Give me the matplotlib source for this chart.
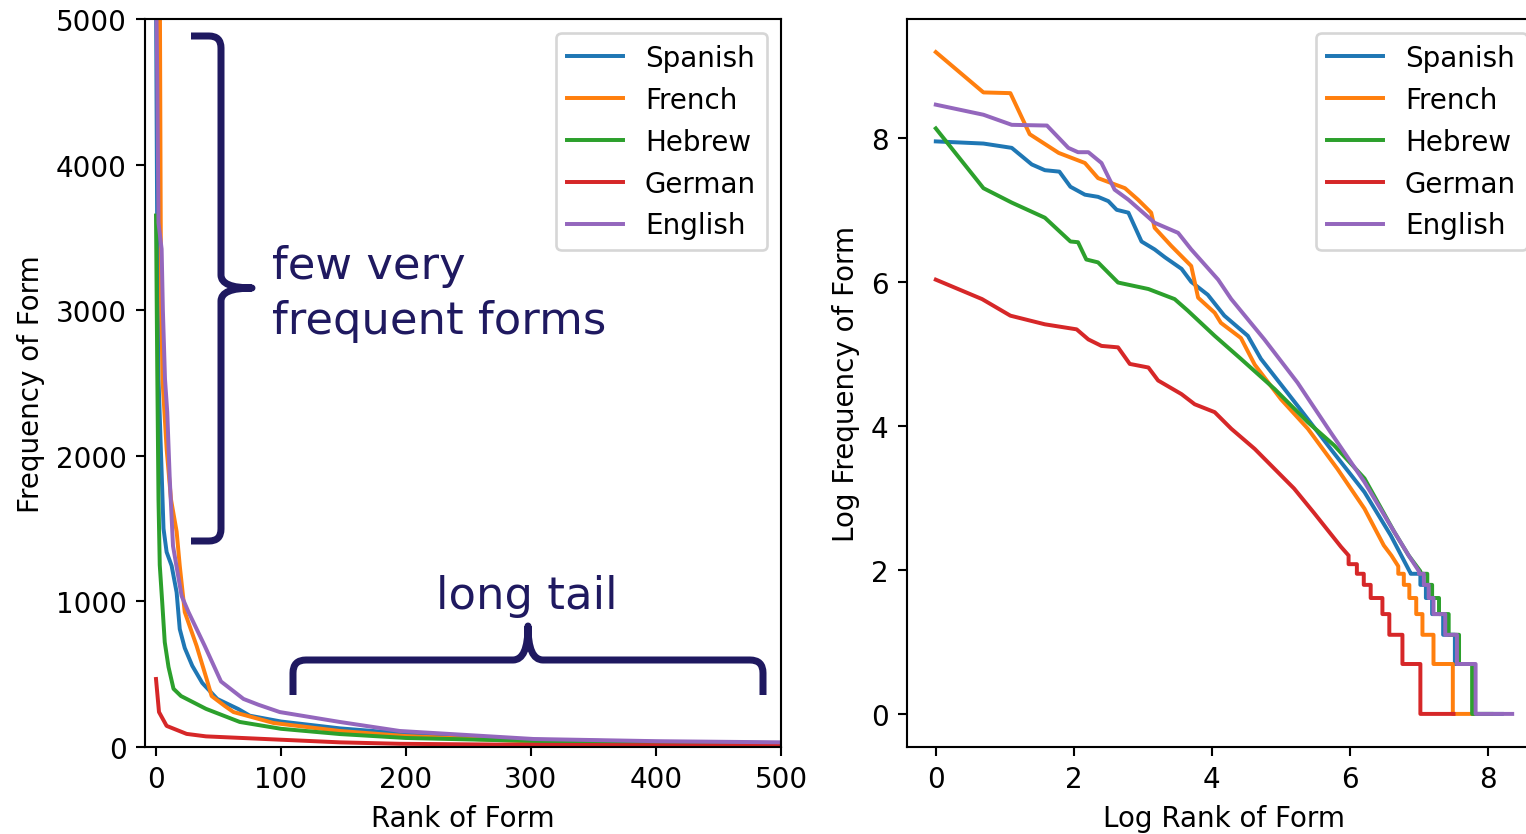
import numpy as np
import matplotlib
matplotlib.use("Agg")
import matplotlib.pyplot as plt
from matplotlib.path import Path
from matplotlib.patches import PathPatch
import matplotlib.transforms as mtransforms

plt.rcParams["font.size"] = 10.5

# ---------------- data ----------------
languages = ["Spanish", "French", "Hebrew", "German", "English"]

# Left panel: rank (0-based) vs raw frequency
rank_es = [0, 1, 2, 4.5, 6, 8.5, 12.5, 16.5, 19, 23, 29, 37, 49, 66, 75, 100, 147, 200, 300, 400, 500]
freq_es = [5200, 3500, 2527, 1889, 1500, 1339, 1245, 1062, 810, 680, 558, 440, 330, 260, 215, 175, 128, 92, 50, 35, 27]

rank_fr = [0, 1, 3, 4, 5.3, 8.5, 12, 16.5, 19, 23, 32.5, 40.5, 44.5, 55, 62, 94, 147, 200, 300, 400, 500]
freq_fr = [9900, 5600, 5400, 3100, 2507, 2047, 1700, 1480, 1245, 927, 694, 467, 350, 282, 240, 165, 110, 75, 38, 27, 21]

rank_he = [0, 1, 2, 3, 5, 7, 10, 14, 20, 40, 67, 100, 147, 200, 300, 400, 500]
freq_he = [3650, 2600, 1700, 1250, 990, 720, 550, 400, 350, 262, 172, 125, 89, 62, 42, 31, 25]

rank_de = [0, 2.4, 8.5, 24.5, 40, 100, 147, 195, 300, 400, 500]
freq_de = [467, 240, 145, 90, 73, 50, 32, 22, 15, 12, 10]

rank_en = [0, 1, 2, 4.5, 5.5, 7.2, 9, 11, 13.6, 20.5, 26, 39, 52, 70, 82, 99, 147, 195, 302, 400, 500]
freq_en = [5300, 4600, 3600, 3420, 3000, 2527, 2300, 1841, 1381, 1037, 927, 694, 450, 330, 290, 240, 172, 110, 55, 40, 32]

# Right panel: log rank vs log frequency (upper part)
logr_es = [0, 0.69, 1.10, 1.39, 1.58, 1.79, 1.95, 2.16, 2.35, 2.50, 2.62, 2.79, 2.98, 3.17, 3.32, 3.56, 3.70,
           3.94, 4.18, 4.52, 4.71, 5.24, 5.72, 6.21, 6.59, 6.88]
logf_es = [7.95, 7.92, 7.86, 7.63, 7.55, 7.53, 7.32, 7.21, 7.18, 7.12, 7.00, 6.96, 6.56, 6.45, 6.34, 6.18, 6.00,
           5.82, 5.53, 5.25, 4.93, 4.28, 3.68, 3.08, 2.48, 1.95]

logr_fr = [0, 0.69, 1.08, 1.36, 1.78, 2.16, 2.35, 2.74, 2.93, 3.12, 3.17, 3.41, 3.70, 3.80, 4.04, 4.13, 4.42,
           4.62, 5.00, 5.39, 5.82, 6.21, 6.49, 6.60, 6.70]
logf_fr = [9.19, 8.63, 8.62, 8.05, 7.79, 7.65, 7.44, 7.30, 7.14, 6.96, 6.75, 6.50, 6.22, 5.78, 5.57, 5.43, 5.22,
           4.85, 4.37, 3.96, 3.40, 2.85, 2.34, 2.20, 2.05]

logr_he = [0, 0.69, 1.10, 1.58, 1.95, 2.06, 2.18, 2.35, 2.64, 3.08, 3.46, 3.65, 4.04, 4.42, 4.91, 5.39, 5.77,
           6.21, 6.64, 6.85, 7.02]
logf_he = [8.13, 7.30, 7.10, 6.89, 6.56, 6.55, 6.31, 6.27, 5.99, 5.90, 5.76, 5.60, 5.25, 4.93, 4.51, 4.05, 3.73,
           3.27, 2.53, 2.20, 1.98]

logr_de = [0, 0.67, 1.08, 1.58, 2.04, 2.21, 2.40, 2.64, 2.81, 3.08, 3.22, 3.56, 3.75, 4.04, 4.28, 4.62, 4.91,
           5.19, 5.48, 5.87, 5.98]
logf_de = [6.03, 5.76, 5.53, 5.41, 5.34, 5.20, 5.11, 5.09, 4.86, 4.81, 4.63, 4.44, 4.30, 4.19, 3.96, 3.68, 3.40,
           3.13, 2.79, 2.32, 2.20]

logr_en = [0, 0.69, 1.10, 1.61, 1.92, 2.06, 2.21, 2.40, 2.59, 2.79, 3.17, 3.51, 3.70, 4.09, 4.28, 4.52, 4.76,
           5.24, 5.72, 6.21, 6.64, 6.85, 7.00]
logf_en = [8.46, 8.32, 8.18, 8.17, 7.86, 7.80, 7.80, 7.65, 7.28, 7.14, 6.82, 6.68, 6.45, 6.03, 5.76, 5.48, 5.20,
           4.60, 3.91, 3.22, 2.53, 2.20, 1.98]

# Tail: small integer frequencies (descending) and the log rank where each level ends
tail_freq_es = [7, 6, 5, 4, 3, 2, 1]
tail_end_es = [7.02, 7.10, 7.19, 7.35, 7.52, 7.78, 8.20]
tail_freq_fr = [7, 6, 5, 4, 3, 2, 1]
tail_end_fr = [6.78, 6.86, 6.96, 7.05, 7.21, 7.49, 7.78]
tail_freq_he = [7, 6, 5, 4, 3, 2, 1]
tail_end_he = [7.12, 7.19, 7.29, 7.43, 7.58, 7.77, 8.05]
tail_freq_de = [8, 7, 6, 5, 4, 3, 2, 1]
tail_end_de = [6.10, 6.20, 6.30, 6.47, 6.57, 6.76, 7.02, 7.50]
tail_freq_en = [7, 6, 5, 4, 3, 2, 1]
tail_end_en = [7.07, 7.14, 7.21, 7.38, 7.55, 7.82, 8.35]

left_data = [(rank_es, freq_es), (rank_fr, freq_fr), (rank_he, freq_he), (rank_de, freq_de), (rank_en, freq_en)]
right_data = [(logr_es, logf_es, tail_freq_es, tail_end_es),
              (logr_fr, logf_fr, tail_freq_fr, tail_end_fr),
              (logr_he, logf_he, tail_freq_he, tail_end_he),
              (logr_de, logf_de, tail_freq_de, tail_end_de),
              (logr_en, logf_en, tail_freq_en, tail_end_en)]

NAVY = "#1f1960"

# ---------------- figure ----------------
W, H, DPI = 1526, 835, 190
fig = plt.figure(figsize=(W / DPI, H / DPI), dpi=DPI)
ax1 = fig.add_axes([145 / W, (H - 748) / H, 636 / W, 728 / H])
ax2 = fig.add_axes([907 / W, (H - 748) / H, 634 / W, 728 / H])

for name, (r, f) in zip(languages, left_data):
    ax1.plot(r, f, label=name)
ax1.set_xlim(-8.8, 500)
ax1.set_ylim(0, 5000)
ax1.set_xlabel("Rank of Form")
ax1.set_ylabel("Frequency of Form")
ax1.legend(loc="upper right")


def staircase(ux, uy, levels, ends):
    xs = list(ux)
    ys = list(uy)
    for lev, e in zip(levels, ends):
        ly = float(np.log(lev))
        xs += [xs[-1], e]
        ys += [ly, ly]
    return xs, ys


for name, (ux, uy, lv, en) in zip(languages, right_data):
    xs, ys = staircase(ux, uy, lv, en)
    ax2.plot(xs, ys, label=name)
ax2.set_xlabel("Log Rank of Form")
ax2.set_ylabel("Log Frequency of Form")
ax2.legend(loc="upper right")

# ---------------- annotations (pixel coordinates, origin top-left) ----------------
pix = mtransforms.Affine2D().scale(1 / W, -1 / H).translate(0, 1) + fig.transFigure
lw_brace = 7 * 72 / DPI

M, L, C = Path.MOVETO, Path.LINETO, Path.CURVE3
vb_verts = [(191, 37), (209, 37), (221, 37), (221, 49), (221, 276), (221, 289), (252, 289),
            (221, 289), (221, 302), (221, 530), (221, 542), (209, 542), (191, 542)]
vb_codes = [M, L, C, C, L, C, C, C, C, L, C, C, L]
fig.add_artist(PathPatch(Path(vb_verts, vb_codes), transform=pix, fill=False,
                         lw=lw_brace, edgecolor=NAVY, capstyle="butt", joinstyle="round"))

hb_verts = [(293, 696), (293, 674), (293, 661), (306, 661), (513, 661), (528, 661), (528, 627),
            (528, 661), (543, 661), (750, 661), (763, 661), (763, 674), (763, 696)]
hb_codes = [M, L, C, C, L, C, C, C, C, L, C, C, L]
fig.add_artist(PathPatch(Path(hb_verts, hb_codes), transform=pix, fill=False,
                         lw=lw_brace, edgecolor=NAVY, capstyle="butt", joinstyle="round"))

afont = dict(fontsize=17, color=NAVY, va="baseline", fontweight="normal")
fig.text(272, 279, "few very", transform=pix, ha="left", **afont)
fig.text(272, 334, "frequent forms", transform=pix, ha="left", **afont)
fig.text(527, 609, "long tail", transform=pix, ha="center", **afont)

fig.savefig("out.png", dpi=DPI)
